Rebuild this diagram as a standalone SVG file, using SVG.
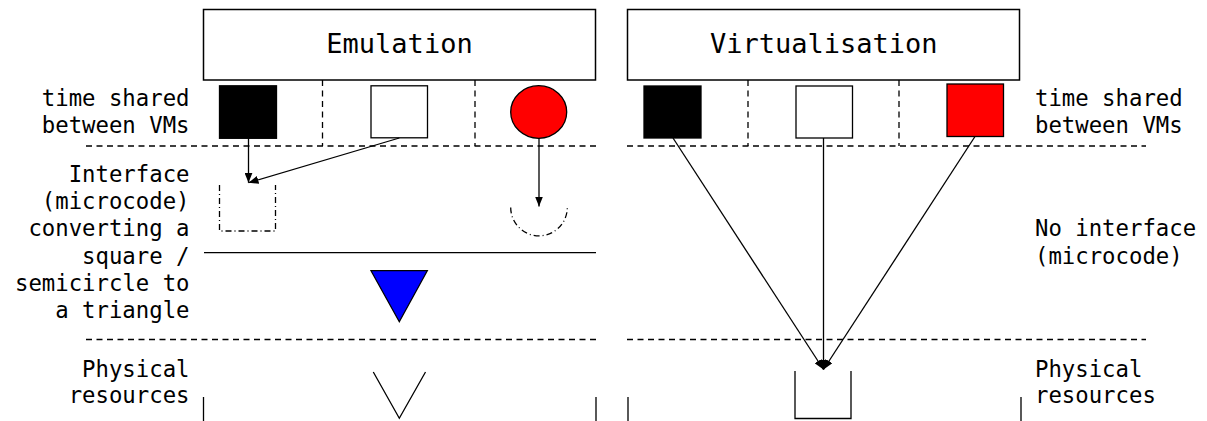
<svg xmlns="http://www.w3.org/2000/svg" width="1207" height="421" viewBox="0 0 1207 421">
<style>
.lbl{font-family:"DejaVu Sans Mono","Liberation Mono",monospace;font-size:22.3px;fill:#000}
.ttl{font-family:"DejaVu Sans Mono","Liberation Mono",monospace;font-size:27px;fill:#000;text-anchor:middle}
.box{fill:#fff;stroke:#000;stroke-width:1.5}
.sh{stroke:#000;stroke-width:1.3}
.dash{fill:none;stroke:#000;stroke-width:1.3;stroke-dasharray:6,4.5}
.dd{fill:none;stroke:#000;stroke-width:1.3;stroke-dasharray:6,3,1,3}
.ln{fill:none;stroke:#000;stroke-width:1.3}
.con{fill:none;stroke:#000;stroke-width:1.3}
</style>
<defs>
<marker id="ah" markerUnits="userSpaceOnUse" markerWidth="10" markerHeight="8" refX="10" refY="4" orient="auto" viewBox="0 0 10 8">
<path d="M0,0 L10,4 L0,8 z" fill="#000"/>
</marker>
</defs>
<rect width="1207" height="421" fill="#fff"/>

<g id="labels-left" class="lbl" text-anchor="end">
<text x="189.5" y="106">time shared</text>
<text x="189.5" y="133.3">between VMs</text>
<text x="189.5" y="181.7">Interface</text>
<text x="189.5" y="209">(microcode)</text>
<text x="189.5" y="236.3">converting a</text>
<text x="189.5" y="263.6">square /</text>
<text x="189.5" y="291">semicircle to</text>
<text x="189.5" y="318.3">a triangle</text>
<text x="189.5" y="376.7">Physical</text>
<text x="189.5" y="402.7">resources</text>
</g>
<g id="labels-right" class="lbl">
<text x="1035" y="106">time shared</text>
<text x="1035" y="133.3">between VMs</text>
<text x="1035" y="236.3">No interface</text>
<text x="1035" y="263.6">(microcode)</text>
<text x="1035" y="376.7">Physical</text>
<text x="1035" y="402.7">resources</text>
</g>

<g id="emulation">
<rect class="box" x="203.5" y="9.5" width="392" height="70.5"/>
<text class="ttl" x="399.5" y="53.3">Emulation</text>
</g>
<g id="virtualisation">
<rect class="box" x="627.5" y="9.5" width="392" height="70.5"/>
<text class="ttl" x="823.8" y="53.3">Virtualisation</text>
</g>

<g id="separators">
<path class="dash" d="M322.5,80 V146 M475,80 V146 M748,80 V146 M899,80 V146"/>
<path class="dash" d="M86,146 H596 M627,146 H1146 M86,339.5 H596 M627,339.5 H1146"/>
<path class="ln" d="M204,252.7 H596"/>
<path class="ln" d="M203.5,397 V421 M596,397 V421 M628,397 V421 M1021,397 V421"/>
</g>

<g id="emu-vm1"><rect class="sh" x="219.5" y="85.8" width="57" height="52.5" fill="#000"/></g>
<g id="emu-vm2"><rect class="sh" x="371" y="85.8" width="56.5" height="52" fill="#fff"/></g>
<g id="emu-vm3"><ellipse class="sh" cx="538.7" cy="112" rx="28" ry="26.3" fill="#ff0000"/></g>
<g id="emu-square-interface"><path class="dd" d="M219.5,185 V231 H275.5 V185"/></g>
<g id="emu-semicircle-interface"><path class="dd" d="M510.7,207.5 A28.3,28.3 0 0 0 567.3,207.5"/></g>
<g id="emu-triangle"><path class="sh" d="M371,270.7 H427.3 L399.3,321.7 z" fill="#0000ff"/></g>
<g id="emu-physical"><path class="ln" d="M373.3,372 L399.3,418.3 L425.5,372"/></g>

<g id="virt-vm1"><rect class="sh" x="644" y="86" width="57" height="52" fill="#000"/></g>
<g id="virt-vm2"><rect class="sh" x="796" y="86" width="56.5" height="52" fill="#fff"/></g>
<g id="virt-vm3"><rect class="sh" x="947" y="84" width="56.5" height="52.5" fill="#ff0000"/></g>
<g id="virt-physical"><path class="ln" d="M795,371 V418.5 H851 V371"/></g>

<g id="connectors">
<path class="con" d="M248.5,138.3 L248.5,182.7" marker-end="url(#ah)"/>
<path class="con" d="M399.3,138 L248.5,182.7" marker-end="url(#ah)"/>
<path class="con" d="M539,138.3 L539,206.5" marker-end="url(#ah)"/>
<path class="con" d="M673,138 L823.5,369.5" marker-end="url(#ah)"/>
<path class="con" d="M823.5,138 L823.5,369.5" marker-end="url(#ah)"/>
<path class="con" d="M975,136.5 L823.5,369.5" marker-end="url(#ah)"/>
</g>
</svg>
